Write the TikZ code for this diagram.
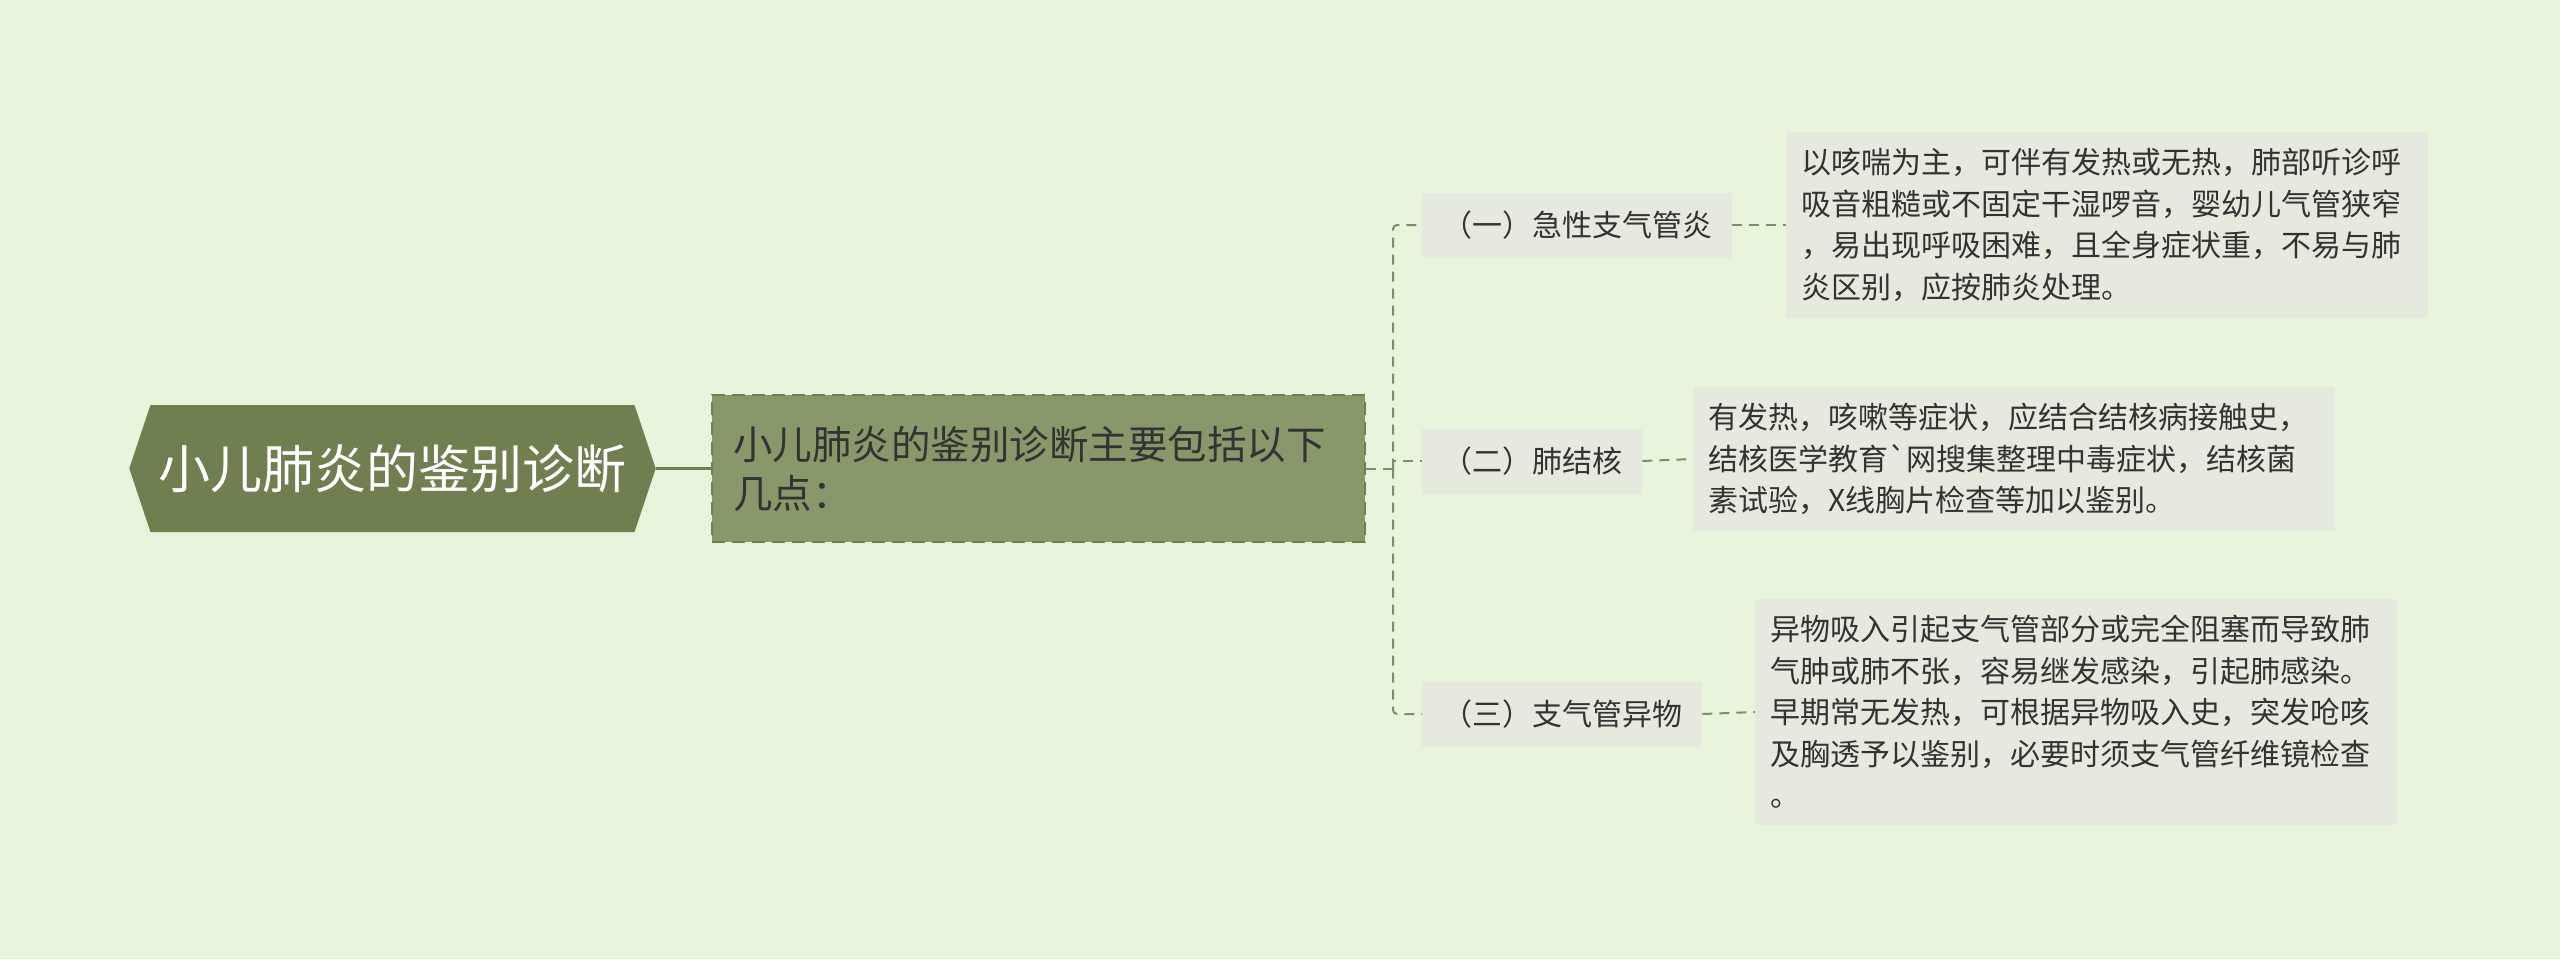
\documentclass[tikz,border=0pt]{standalone}
\usepackage{fontspec}
\setmainfont{Noto Sans CJK SC}
\usetikzlibrary{shapes.symbols, positioning}

\definecolor{bgcol}{HTML}{E8F5DC}
\definecolor{rootcol}{HTML}{6F7F4F}
\definecolor{maincol}{HTML}{89986A}
\definecolor{boxcol}{HTML}{E5E9DE}
\definecolor{linecol}{HTML}{7F8C6A}
\definecolor{txtcol}{HTML}{333333}

\begin{document}
\begin{tikzpicture}[x=1pt, y=-1pt,
    rootnode/.style={signal, signal to=west and east, signal pointer angle=143,
      fill=rootcol, text=white, minimum height=127pt, inner xsep=8pt,
      font=\fontsize{52}{60}\selectfont},
    mainnode/.style={rectangle, fill=maincol, draw=rootcol, line width=2pt,
      dash pattern=on 13pt off 7pt,
      text=txtcol, text width=611pt, align=left, inner xsep=21pt,
      minimum height=147pt, font=\fontsize{39.5}{49}\selectfont},
    branch/.style={rectangle, fill=boxcol, text=txtcol, anchor=west,
      inner xsep=20pt, minimum height=65pt, font=\fontsize{30}{36}\selectfont},
    leaf/.style={rectangle, fill=boxcol, text=txtcol, anchor=west,
      text width=612pt, align=left, inner xsep=15pt, inner ysep=16pt,
      font=\fontsize{30}{41.5}\selectfont},
    link/.style={linecol, line width=2pt, dash pattern=on 10pt off 7pt}
  ]
  % фон
  \fill[bgcol] (0,0) rectangle (2560,959);
  \useasboundingbox (0,0) rectangle (2560,959);

  % корінь і головний вузол
  \node[rootnode] (root) at (392.5,468.5) {小儿肺炎的鉴别诊断};
  \node[mainnode] (main) at (1038.5,468.5) {小儿肺炎的鉴别诊断主要包括以下\\几点：};
  \draw[rootcol, line width=3pt] (root.east) -- (main.west);

  % гілки
  \node[branch] (acute) at (1422,225) {（一）急性支气管炎};
  \node[branch] (tuber) at (1422,461) {（二）肺结核};
  \node[branch] (foreign) at (1422,714) {（三）支气管异物};

  % листки
  \node[leaf] (acutetxt) at (1786,225) {以咳喘为主，可伴有发热或无热，肺部听诊呼\\吸音粗糙或不固定干湿啰音，婴幼儿气管狭窄\\，易出现呼吸困难，且全身症状重，不易与肺\\炎区别，应按肺炎处理。};
  \node[leaf] (tubertxt) at (1693,459) {有发热，咳嗽等症状，应结合结核病接触史，\\结核医学教育\textasciigrave 网搜集整理中毒症状，结核菌\\素试验，X线胸片检查等加以鉴别。};
  \node[leaf] (foreigntxt) at (1755,712) {异物吸入引起支气管部分或完全阻塞而导致肺\\气肿或肺不张，容易继发感染，引起肺感染。\\早期常无发热，可根据异物吸入史，突发呛咳\\及胸透予以鉴别，必要时须支气管纤维镜检查\\。};

  % з'єднання
  \coordinate (fork) at (1393,468.5);
  \draw[link] (main.east) -- (fork);
  \draw[link, rounded corners=4pt] (fork) |- (acute.west);
  \draw[link] (fork) |- (tuber.west);
  \draw[link, rounded corners=4pt] (fork) |- (foreign.west);
  \draw[link] (acute.east) -- (acutetxt.west);
  \draw[link] (tuber.east) -- (tubertxt.west);
  \draw[link] (foreign.east) -- (foreigntxt.west);
\end{tikzpicture}
\end{document}
